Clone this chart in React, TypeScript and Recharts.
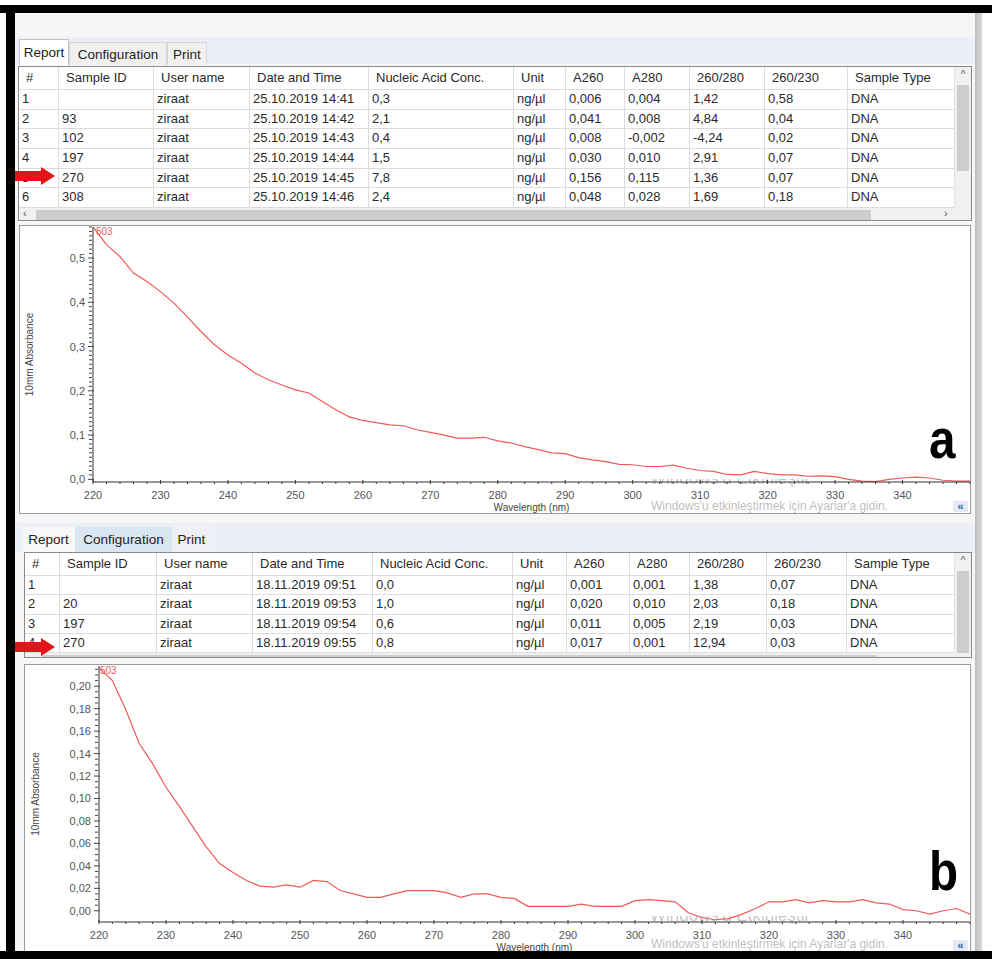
import React from "react";
import { LineChart, Line, XAxis, YAxis } from "recharts";

const wavelengths = [
  220, 222, 224, 226, 228, 230, 232, 234, 236, 238,
  240, 242, 244, 246, 248, 250, 252, 254, 256, 258,
  260, 262, 264, 266, 268, 270, 272, 274, 276, 278,
  280, 282, 284, 286, 288, 290, 292, 294, 296, 298,
  300, 302, 304, 306, 308, 310, 312, 314, 316, 318,
  320, 322, 324, 326, 328, 330, 332, 334, 336, 338,
  340, 342, 344, 346, 348, 350,
];

// sample 270, 25.10.2019
const absorbanceA = [
  0.570, 0.530, 0.503, 0.466, 0.447, 0.424, 0.398, 0.367, 0.334, 0.304,
  0.281, 0.262, 0.240, 0.225, 0.213, 0.202, 0.195, 0.176, 0.157, 0.141,
  0.133, 0.128, 0.123, 0.121, 0.112, 0.106, 0.100, 0.093, 0.093, 0.095,
  0.087, 0.082, 0.074, 0.067, 0.060, 0.058, 0.049, 0.044, 0.040, 0.034,
  0.033, 0.029, 0.029, 0.032, 0.025, 0.020, 0.018, 0.011, 0.010, 0.018,
  0.013, 0.010, 0.010, 0.007, 0.008, 0.006, 0.000, -0.004, -0.005, 0.000,
  0.003, 0.005, 0.003, -0.002, -0.004, -0.004,
];

// sample 270, 18.11.2019
const absorbanceB = [
  0.216, 0.205, 0.179, 0.149, 0.131, 0.110, 0.093, 0.075, 0.057, 0.042,
  0.034, 0.027, 0.022, 0.021, 0.023, 0.021, 0.027, 0.026, 0.018, 0.015,
  0.012, 0.012, 0.015, 0.018, 0.018, 0.018, 0.016, 0.012, 0.015, 0.015,
  0.012, 0.011, 0.004, 0.004, 0.004, 0.004, 0.006, 0.004, 0.004, 0.004,
  0.009, 0.010, 0.009, 0.008, -0.002, -0.006, -0.008, -0.007, -0.003, 0.002,
  0.008, 0.008, 0.010, 0.007, 0.009, 0.008, 0.008, 0.010, 0.007, 0.006,
  0.001, 0.000, -0.003, 0.000, 0.002, -0.003,
];

const xLabels = [220, 230, 240, 250, 260, 270, 280, 290, 300, 310, 320, 330, 340];
const yLabelsA = [0, 0.1, 0.2, 0.3, 0.4, 0.5];
const yLabelsB = [0, 0.02, 0.04, 0.06, 0.08, 0.1, 0.12, 0.14, 0.16, 0.18, 0.2];

const headers = [
  "#", "Sample ID", "User name", "Date and Time", "Nucleic Acid Conc.",
  "Unit", "A260", "A280", "260/280", "260/230", "Sample Type",
];

const rowsA = [
  ["1", "", "ziraat", "25.10.2019 14:41", "0,3", "ng/µl", "0,006", "0,004", "1,42", "0,58", "DNA"],
  ["2", "93", "ziraat", "25.10.2019 14:42", "2,1", "ng/µl", "0,041", "0,008", "4,84", "0,04", "DNA"],
  ["3", "102", "ziraat", "25.10.2019 14:43", "0,4", "ng/µl", "0,008", "-0,002", "-4,24", "0,02", "DNA"],
  ["4", "197", "ziraat", "25.10.2019 14:44", "1,5", "ng/µl", "0,030", "0,010", "2,91", "0,07", "DNA"],
  ["5", "270", "ziraat", "25.10.2019 14:45", "7,8", "ng/µl", "0,156", "0,115", "1,36", "0,07", "DNA"],
  ["6", "308", "ziraat", "25.10.2019 14:46", "2,4", "ng/µl", "0,048", "0,028", "1,69", "0,18", "DNA"],
];

const rowsB = [
  ["1", "", "ziraat", "18.11.2019 09:51", "0,0", "ng/µl", "0,001", "0,001", "1,38", "0,07", "DNA"],
  ["2", "20", "ziraat", "18.11.2019 09:53", "1,0", "ng/µl", "0,020", "0,010", "2,03", "0,18", "DNA"],
  ["3", "197", "ziraat", "18.11.2019 09:54", "0,6", "ng/µl", "0,011", "0,005", "2,19", "0,03", "DNA"],
  ["4", "270", "ziraat", "18.11.2019 09:55", "0,8", "ng/µl", "0,017", "0,001", "12,94", "0,03", "DNA"],
];

const FONT = "'Liberation Sans', Arial, sans-serif";
const LINE_RED = "#ef5a5a";

const dataA = wavelengths.map((w, i) => ({ w, v: absorbanceA[i] }));
const dataB = wavelengths.map((w, i) => ({ w, v: absorbanceB[i] }));

// minor tick positions (axis decoration only)
const yMinorA = Array.from({ length: 58 }, (_, i) => i * 0.01);
const yMinorB = Array.from({ length: 44 }, (_, i) => i * 0.005);

const isLabel = (v: number, list: number[]) => list.some((l) => Math.abs(l - v) < 1e-6);

function XTick(props: any) {
  const { x, y, payload } = props;
  const v = payload.value;
  const major = isLabel(v, xLabels);
  return (
    <g>
      <line x1={x} x2={x} y1={y} y2={y - (major ? 4 : 2)} stroke="#333" />
      {major && (
        <text x={x} y={y + 15} textAnchor="middle" fontSize={11} fill="#555" fontFamily={FONT}>
          {v}
        </text>
      )}
    </g>
  );
}

function makeYTick(labels: number[], digits: number) {
  return (props: any) => {
    const { x, y, payload } = props;
    const v = payload.value;
    const major = isLabel(v, labels);
    return (
      <g>
        <line x1={x - (major ? 3 : 2)} x2={x + (major ? 3 : 1)} y1={y} y2={y} stroke="#444" />
        {major && (
          <text x={x - 6} y={y + 4} textAnchor="end" fontSize={11} fill="#555" fontFamily={FONT}>
            {v.toFixed(digits).replace(".", ",")}
          </text>
        )}
      </g>
    );
  };
}

function Spectrum({ left, top, width, height, data, domain, yTicks, yLabels, digits }: any) {
  return (
    <div style={{ position: "absolute", left, top }}>
      <LineChart width={width} height={height} data={data} margin={{ top: 1, right: 1, bottom: 0, left: 0 }}>
        <XAxis
          dataKey="w"
          type="number"
          domain={[220, 350]}
          ticks={wavelengths}
          interval={0}
          tickSize={0}
          tickLine={false}
          tick={XTick}
          axisLine={{ stroke: "#333" }}
          height={31}
          allowDataOverflow
          label={{ value: "Wavelength (nm)", position: "insideBottom", offset: 2, fontSize: 10, fill: "#444", fontFamily: FONT }}
        />
        <YAxis
          type="number"
          domain={domain}
          ticks={yTicks}
          interval={0}
          tickSize={0}
          tickLine={false}
          tick={makeYTick(yLabels, digits)}
          axisLine={{ stroke: "#333" }}
          width={74}
          allowDataOverflow
          label={{
            value: "10mm Absorbance",
            angle: -90,
            position: "insideLeft",
            offset: 10,
            fontSize: 10,
            fill: "#444",
            fontFamily: FONT,
            style: { textAnchor: "middle" },
          }}
        />
        <Line type="linear" dataKey="v" stroke={LINE_RED} strokeWidth={1.2} dot={false} isAnimationActive={false} />
      </LineChart>
    </div>
  );
}

function DataTable({ left, top, width, height, widths, rows, headerH, rowH, thumbTop, thumbH, hArrows }: any) {
  const cell = (w: number, pad: number, h: number): React.CSSProperties => ({
    width: w,
    height: h,
    lineHeight: h + "px",
    paddingLeft: pad,
    borderRight: "1px solid #dcdcdc",
    boxSizing: "border-box",
    whiteSpace: "nowrap",
    overflow: "hidden",
    flex: "none",
  });
  const hTop = headerH + rows.length * rowH;
  return (
    <div
      style={{
        position: "absolute",
        left,
        top,
        width,
        height,
        border: "1px solid #8a8a8a",
        background: "#fff",
        overflow: "hidden",
        boxSizing: "border-box",
        fontSize: 13,
        color: "#2a2a2a",
      }}
    >
      <div style={{ display: "flex", borderBottom: "1px solid #dcdcdc" }}>
        {headers.map((h, i) => (
          <div key={i} style={cell(widths[i], 7, headerH - 1)}>{h}</div>
        ))}
      </div>
      {rows.map((r: string[], ri: number) => (
        <div key={ri} style={{ display: "flex", borderBottom: "1px solid #dcdcdc" }}>
          {r.map((c, i) => (
            <div key={i} style={cell(widths[i], 3, rowH - 1)}>{c}</div>
          ))}
        </div>
      ))}
      {/* vertical scrollbar */}
      <div style={{ position: "absolute", right: 0, top: 0, width: 16, height: hTop, background: "#f0f0f0", borderLeft: "1px solid #e2e2e2" }}>
        <div style={{ position: "absolute", top: 2, left: 0, width: 16, textAlign: "center", fontSize: 10, color: "#555" }}>^</div>
        <div style={{ position: "absolute", top: thumbTop, left: 2, width: 12, height: thumbH, background: "#cdcdcd" }} />
      </div>
      {/* horizontal scrollbar */}
      <div style={{ position: "absolute", left: 0, top: hTop, width: width - 2, height: 14, background: "#f0f0f0" }}>
        {hArrows && <div style={{ position: "absolute", left: 4, top: -1, fontSize: 11, color: "#555" }}>‹</div>}
        <div style={{ position: "absolute", left: 17, top: 2, width: 835, height: 10, background: "#cdcdcd" }} />
        {hArrows && <div style={{ position: "absolute", left: 925, top: -1, fontSize: 11, color: "#555" }}>›</div>}
      </div>
    </div>
  );
}

function Tab({ left, top, width, height, bg, border, label }: any) {
  return (
    <div
      style={{
        position: "absolute",
        left,
        top,
        width,
        height,
        background: bg,
        border: border ? "1px solid " + border : "none",
        borderBottom: "none",
        boxSizing: "border-box",
        fontSize: 13.5,
        color: "#222",
        lineHeight: height + "px",
        textAlign: "center",
        whiteSpace: "nowrap",
      }}
    >
      {label}
    </div>
  );
}

function Arrow({ top }: { top: number }) {
  return (
    <svg style={{ position: "absolute", left: 0, top: top - 10 }} width={60} height={20}>
      <polygon points="8,5 41,5 41,1 55,10 41,19 41,15 8,15" fill="#e3141b" />
    </svg>
  );
}

// activation watermark over the screenshot; the first line shows only its lower half
function Watermark({ top1, top2 }: { top1: number; top2: number }) {
  return (
    <>
      <div
        style={{
          position: "absolute",
          left: 650,
          top: top1,
          fontSize: 17,
          lineHeight: "20px",
          whiteSpace: "nowrap",
          color: "transparent",
          backgroundImage: "linear-gradient(to bottom, rgba(150,150,150,0) 52%, rgba(150,150,150,0.55) 52%)",
          WebkitBackgroundClip: "text",
          backgroundClip: "text",
        }}
      >
        Windows'u Etkinleştir
      </div>
      <div style={{ position: "absolute", left: 651, top: top2, fontSize: 12, color: "rgba(160,160,160,0.7)", whiteSpace: "nowrap" }}>
        Windows'u etkinleştirmek için Ayarlar'a gidin.
      </div>
    </>
  );
}

const bigLetter: React.CSSProperties = {
  position: "absolute",
  fontSize: 56,
  fontWeight: "bold",
  color: "#000",
  lineHeight: "56px",
  transform: "scaleX(0.85)",
  transformOrigin: "left top",
};

const widthsA = [40, 95, 96, 119, 145, 52, 59, 65, 75, 83, 108];
const widthsB = [35, 97, 96, 120, 140, 54, 63, 60, 77, 80, 108];

export default function App() {
  return (
    <div
      style={{
        position: "absolute",
        left: 0,
        top: 0,
        width: 992,
        height: 959,
        background: "#fff",
        overflow: "hidden",
        fontFamily: FONT,
      }}
    >
      {/* window background */}
      <div style={{ position: "absolute", left: 15, top: 13, width: 960, height: 938, background: "#f6f6f7" }} />
      <div style={{ position: "absolute", left: 975, top: 13, width: 7, height: 938, background: "linear-gradient(to right, #bdbdbd, #d9d9d9)" }} />

      {/* panel a */}
      <div style={{ position: "absolute", left: 15, top: 37, width: 960, height: 27, background: "#eceef8" }} />
      <Tab left={19} top={39} width={50} height={26} bg="#fff" border="#c4c4c4" label="Report" />
      <Tab left={69} top={42} width={98} height={23} bg="#f0f0f0" border="#d6d6d6" label="Configuration" />
      <Tab left={167} top={42} width={40} height={23} bg="#f0f0f0" border="#d6d6d6" label="Print" />
      <DataTable
        left={18}
        top={66}
        width={954}
        height={155}
        widths={widthsA}
        rows={rowsA}
        headerH={23}
        rowH={19.7}
        thumbTop={18}
        thumbH={86}
        hArrows
      />
      <div style={{ position: "absolute", left: 19, top: 225, width: 952, height: 289, background: "#fff", border: "1px solid #9a9a9a", boxSizing: "border-box" }} />
      <Watermark top1={469} top2={499} />
      <Spectrum
        left={19}
        top={226}
        width={952}
        height={287}
        data={dataA}
        domain={[-0.006, 0.57]}
        yTicks={yMinorA}
        yLabels={yLabelsA}
        digits={1}
      />
      <div style={{ position: "absolute", left: 96, top: 226, fontSize: 10, color: LINE_RED }}>503</div>
      <div style={{ ...bigLetter, left: 929, top: 411 }}>a</div>
      <div style={{ position: "absolute", left: 953, top: 501, width: 15, height: 11, background: "#e4e9f2", color: "#2f5fb3", fontSize: 11, lineHeight: "11px", textAlign: "center", fontWeight: "bold" }}>«</div>
      <Arrow top={176} />

      {/* panel b */}
      <div style={{ position: "absolute", left: 15, top: 523, width: 960, height: 30, background: "#eceef8" }} />
      <Tab left={22} top={527} width={53} height={26} bg="#f7f7f9" border={null} label="Report" />
      <Tab left={75} top={527} width={97} height={26} bg="#dbe6f4" border={null} label="Configuration" />
      <Tab left={172} top={527} width={39} height={26} bg="#eef0f5" border={null} label="Print" />
      <DataTable
        left={24}
        top={552}
        width={948}
        height={106}
        widths={widthsB}
        rows={rowsB}
        headerH={23}
        rowH={19.3}
        thumbTop={18}
        thumbH={82}
        hArrows={false}
      />
      <div style={{ position: "absolute", left: 24, top: 664, width: 947, height: 300, background: "#fff", border: "1px solid #9a9a9a", boxSizing: "border-box" }} />
      <Watermark top1={906} top2={937} />
      <Spectrum
        left={25}
        top={665}
        width={946}
        height={288}
        data={dataB}
        domain={[-0.01, 0.218]}
        yTicks={yMinorB}
        yLabels={yLabelsB}
        digits={2}
      />
      <div style={{ position: "absolute", left: 100, top: 665, fontSize: 10, color: LINE_RED }}>503</div>
      <div style={{ ...bigLetter, left: 929, top: 843 }}>b</div>
      <div style={{ position: "absolute", left: 953, top: 940, width: 15, height: 11, background: "#e4e9f2", color: "#2f5fb3", fontSize: 11, lineHeight: "11px", textAlign: "center", fontWeight: "bold" }}>«</div>
      <Arrow top={647} />

      {/* black frame */}
      <div style={{ position: "absolute", left: 0, top: 5, width: 992, height: 8, background: "#000" }} />
      <div style={{ position: "absolute", left: 6, top: 5, width: 9, height: 954, background: "#000" }} />
      <div style={{ position: "absolute", left: 0, top: 951, width: 992, height: 8, background: "#000" }} />
    </div>
  );
}
